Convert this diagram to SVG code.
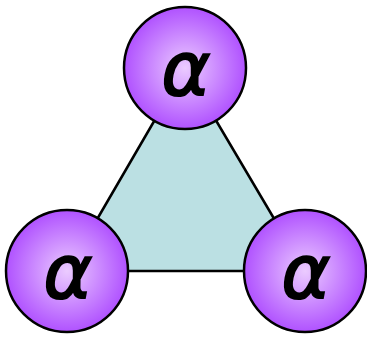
<svg xmlns="http://www.w3.org/2000/svg" width="367" height="337" viewBox="0 0 367 337">
<defs>
<radialGradient id="g" cx="0.5" cy="0.5" r="0.5">
<stop offset="0" stop-color="#ebcbff"/>
<stop offset="1" stop-color="#b052ff"/>
</radialGradient>
</defs>
<style>
.n circle{fill:url(#g);stroke:#000;stroke-width:2.5}
.n text{font-family:"DejaVu Sans",sans-serif;font-style:italic;font-size:74px;text-anchor:middle;fill:#000;stroke:#000;stroke-width:2}
</style>
<g id="connectors">
<polygon points="185,68 67,271 305,271" fill="#bbe0e3" stroke="#000" stroke-width="2.5" stroke-linejoin="round"/>
</g>
<g id="node-top" class="n"><circle cx="185" cy="68" r="61"/><text x="186" y="95">α</text></g>
<g id="node-left" class="n"><circle cx="67" cy="271" r="61"/><text x="68" y="298">α</text></g>
<g id="node-right" class="n"><circle cx="305" cy="271" r="61"/><text x="306" y="298">α</text></g>
</svg>
